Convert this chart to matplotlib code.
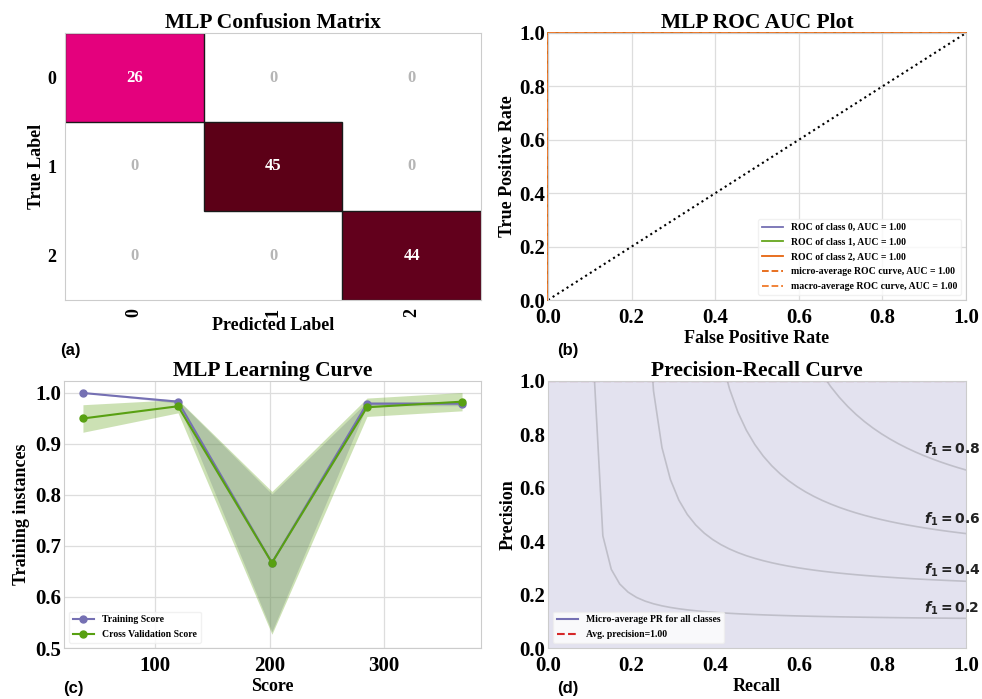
import matplotlib
matplotlib.use("Agg")
import matplotlib.pyplot as plt
import numpy as np
from matplotlib.colors import LinearSegmentedColormap
from matplotlib.patches import Rectangle

# confusion matrix
class_labels = ["0", "1", "2"]
conf_matrix = [[26, 0, 0],
               [0, 45, 0],
               [0, 0, 44]]

# ROC curves (one-vs-rest)
roc_fpr = {"0": [0.0, 0.0, 1.0], "1": [0.0, 0.0, 1.0], "2": [0.0, 0.0, 1.0]}
roc_tpr = {"0": [0.0, 1.0, 1.0], "1": [0.0, 1.0, 1.0], "2": [0.0, 1.0, 1.0]}
roc_auc = {"0": 1.00, "1": 1.00, "2": 1.00}
micro_fpr, micro_tpr, micro_auc = [0.0, 0.0, 1.0], [0.0, 1.0, 1.0], 1.00
macro_fpr, macro_tpr, macro_auc = [0.0, 0.0, 1.0], [0.0, 1.0, 1.0], 1.00
chance_line = [0.0, 1.0]

# learning curve
train_sizes = [37, 120, 202, 285, 368]
train_mean = [1.000, 0.983, 0.667, 0.979, 0.979]
train_std = [0.000, 0.003, 0.135, 0.004, 0.004]
cv_mean = [0.950, 0.974, 0.667, 0.972, 0.983]
cv_std = [0.027, 0.013, 0.140, 0.018, 0.018]

# precision-recall
pr_recall = [1.0, 0.0]
pr_precision = [1.0, 1.0]
avg_precision = 1.00
f1_levels = [0.2, 0.4, 0.6, 0.8]

plt.rcParams["font.family"] = "Liberation Serif"
plt.rcParams["font.weight"] = "bold"
plt.rcParams["axes.titleweight"] = "bold"
plt.rcParams["axes.labelweight"] = "bold"
plt.rcParams["axes.edgecolor"] = "#cccccc"
plt.rcParams["axes.axisbelow"] = True

purple = "#7570b3"
green = "#66a61e"
orange = "#e6640f"
dkgreen = "#58a012"

W, H = 982, 699
fig = plt.figure(figsize=(W / 100, H / 100), dpi=100)


def box(l, t, r, b):
    return [l / W, 1 - b / H, (r - l) / W, (b - t) / H]


ax_cm = fig.add_axes(box(65, 33, 481, 300))
ax_roc = fig.add_axes(box(548, 33, 966, 300))
ax_lc = fig.add_axes(box(64, 381, 481, 648))
ax_pr = fig.add_axes(box(548, 381, 966, 648))

# ---- (a) confusion matrix
cm = np.array(conf_matrix, dtype=float)
cmap = LinearSegmentedColormap.from_list(
    "cm", [(0.0, "#fbe3ef"), (0.58, "#e4007c"), (1.0, "#5c0017")])
masked = np.ma.masked_equal(cm, 0)
ax_cm.pcolormesh(np.arange(4), np.arange(4), masked, cmap=cmap,
                 vmin=0, vmax=cm.max())
for i in range(3):
    for j in range(3):
        v = conf_matrix[i][j]
        if v:
            ax_cm.add_patch(Rectangle((j, i), 1, 1, fill=False,
                                      edgecolor="#1a1a1a", lw=1.0))
        ax_cm.text(j + 0.5, i + 0.5, str(v), ha="center", va="center",
                   fontsize=12, color="white" if v else "#b5b5b5")
ax_cm.set_xlim(0, 3)
ax_cm.set_ylim(3, 0)
ax_cm.set_xticks(np.arange(3) + 0.5)
ax_cm.set_yticks(np.arange(3) + 0.5)
ax_cm.set_xticklabels(class_labels, rotation=90, fontsize=13)
ax_cm.set_yticklabels(class_labels, fontsize=13)
ax_cm.tick_params(length=0, pad=6)
ax_cm.set_title("MLP Confusion Matrix", fontsize=15.5, pad=3)
ax_cm.set_xlabel("Predicted Label", fontsize=13, labelpad=0)
ax_cm.set_ylabel("True Label", fontsize=13, labelpad=2)

# ---- (b) ROC
for k, c in zip(class_labels, [purple, green, orange]):
    ax_roc.plot(roc_fpr[k], roc_tpr[k], color=c, lw=1.3, clip_on=False,
                label="ROC of class {}, AUC = {:0.2f}".format(k, roc_auc[k]))
ax_roc.plot(micro_fpr, micro_tpr, "--", color=orange, lw=1.3, clip_on=False,
            label="micro-average ROC curve, AUC = {:0.2f}".format(micro_auc))
ax_roc.plot(macro_fpr, macro_tpr, "--", color="#f07a2a", lw=1.3, clip_on=False,
            label="macro-average ROC curve, AUC = {:0.2f}".format(macro_auc))
ax_roc.plot(chance_line, chance_line, ":", color="black", lw=1.5)
ax_roc.set_xlim(0, 1)
ax_roc.set_ylim(0, 1)
ax_roc.grid(True, color="#dddddd", lw=0.9)
ax_roc.tick_params(length=0, labelsize=15, pad=2)
ax_roc.tick_params(axis="x", pad=6)
ax_roc.set_title("MLP ROC AUC Plot", fontsize=15.5, pad=3)
ax_roc.set_xlabel("False Positive Rate", fontsize=13, labelpad=1)
ax_roc.set_ylabel("True Positive Rate", fontsize=13, labelpad=2)
ax_roc.legend(loc="lower right", fontsize=7, frameon=True, framealpha=0.8,
              edgecolor="#eeeeee", handlelength=2.2, labelspacing=0.6)

# ---- (c) learning curve
tm, ts = np.array(train_mean), np.array(train_std)
cvm, cvs = np.array(cv_mean), np.array(cv_std)
ax_lc.fill_between(train_sizes, tm - ts, tm + ts, color=purple, alpha=0.3, lw=0)
ax_lc.fill_between(train_sizes, cvm - cvs, cvm + cvs, color=green, alpha=0.33, lw=0)
ax_lc.plot(train_sizes, train_mean, "o-", color=purple, ms=5, lw=1.5,
           label="Training Score")
ax_lc.plot(train_sizes, cv_mean, "o-", color=dkgreen, ms=5, lw=1.5,
           label="Cross Validation Score")
ax_lc.set_ylim(0.5, 1.0235)
ax_lc.set_yticks([0.5, 0.6, 0.7, 0.8, 0.9, 1.0])
ax_lc.set_xticks([100, 200, 300])
ax_lc.grid(True, color="#dddddd", lw=0.9)
ax_lc.tick_params(length=0, labelsize=15, pad=2)
ax_lc.tick_params(axis="x", pad=6)
ax_lc.set_title("MLP Learning Curve", fontsize=15.5, pad=3)
ax_lc.set_xlabel("Score", fontsize=13, labelpad=1)
ax_lc.set_ylabel("Training instances", fontsize=13, labelpad=4)
ax_lc.legend(loc="lower left", fontsize=7, frameon=True, framealpha=0.8,
             edgecolor="#eeeeee", handlelength=2.2, labelspacing=0.6)

# ---- (d) precision-recall
x = np.linspace(0.01, 1)
for f in f1_levels:
    y = f * x / (2 * x - f)
    ax_pr.plot(x[y >= 0], y[y >= 0], color="#333333", alpha=0.2, lw=1.2)
    ax_pr.annotate("$f_1={:0.1f}$".format(f), xy=(0.9, y[45] + 0.02),
                   fontsize=10, color="#222222", family="DejaVu Sans")
ax_pr.step(pr_recall, pr_precision, where="post", color=purple, lw=1.5,
           label="Micro-average PR for all classes")
ax_pr.fill_between(pr_recall, pr_precision, step="post", color=purple,
                   alpha=0.2, lw=0)
ax_pr.axhline(avg_precision, ls="--", color="#d62728", lw=1.5,
              label="Avg. precision={:0.2f}".format(avg_precision))
ax_pr.set_xlim(0, 1)
ax_pr.set_ylim(0, 1)
ax_pr.tick_params(length=0, labelsize=15, pad=2)
ax_pr.tick_params(axis="x", pad=6)
ax_pr.set_title("Precision-Recall Curve", fontsize=15.5, pad=3)
ax_pr.set_xlabel("Recall", fontsize=13, labelpad=1)
ax_pr.set_ylabel("Precision", fontsize=13, labelpad=2)
ax_pr.legend(loc="lower left", fontsize=7, frameon=True, framealpha=0.8,
             edgecolor="#eeeeee", handlelength=2.2, labelspacing=0.6)

# panel letters
for lbl, px, py in [("(a)", 60, 350), ("(b)", 557, 350),
                    ("(c)", 63, 688), ("(d)", 557, 688)]:
    fig.text(px / W, 1 - py / H, lbl, family="Liberation Sans",
             fontsize=12, weight="bold", va="center")

fig.savefig("out.png", dpi=100, facecolor="white")
